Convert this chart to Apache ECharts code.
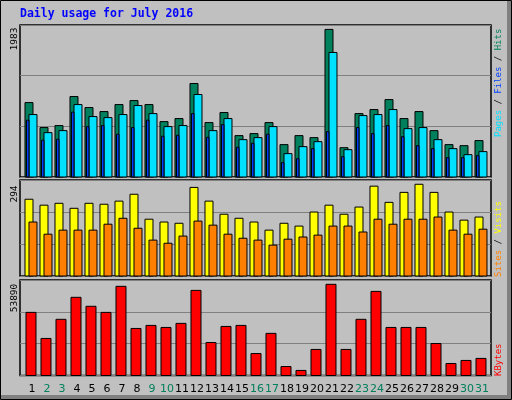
<!DOCTYPE html>
<html><head><meta charset="utf-8">
<script src="https://cdn.jsdelivr.net/npm/echarts@6/dist/echarts.min.js"></script>
<style>html,body{margin:0;padding:0;background:#c0c0c0}#c{width:512px;height:400px}</style>
</head><body><div id="c"></div>
<script>
const days = [1,2,3,4,5,6,7,8,9,10,11,12,13,14,15,16,17,18,19,20,21,22,23,24,25,26,27,28,29,30,31];
const weekend = [2,3,9,10,16,17,23,24,30,31];
const hits  = [1000,664,691,1081,933,879,973,1027,973,744,785,1256,731,866,556,583,731,435,556,529,1983,394,852,906,1040,785,879,623,435,421,489];
const files = [839,596,623,973,812,798,839,960,852,677,691,1108,623,785,502,529,677,314,408,475,1673,367,825,839,906,650,664,502,381,300,341];
const pages = [763,494,507,871,677,691,575,664,763,548,561,852,534,704,400,454,575,193,246,381,610,273,664,583,691,542,421,381,260,260,287];
const sites = [246,227,233,217,233,230,240,262,182,173,169,284,240,198,185,173,147,169,160,205,227,198,221,288,236,268,294,268,205,179,189];
const visits= [173,134,147,147,147,166,185,153,115,105,128,176,163,134,121,115,99,118,125,131,160,160,141,182,166,182,182,189,147,134,150];
const kbytes= [37300,21900,33200,46200,40900,37300,52700,27800,29600,28400,30800,50300,19500,29000,29600,13000,24900,5300,3000,15400,53890,15400,33200,49700,28400,28400,28400,18900,7100,8900,10100];
const maxLabels = ['1983','294','53890'];

const chart = echarts.init(document.getElementById('c'));
const grids = [
  {left:20, width:471, top:25, height:152},
  {left:20, width:471, top:180, height:96},
  {left:20, width:471, top:280, height:95.5}
];
const maxes = [2042, 307.7, 56437];
function barSeries(idx, vals, x0, x1, color){
  return {type:'custom', xAxisIndex:idx, yAxisIndex:idx, data: days.map((d,i)=>[d, vals[i]]),
    encode:{x:0,y:1}, silent:true,
    renderItem:(p, api)=>{
      const top = api.coord([api.value(0), api.value(1)]);
      const base = api.coord([api.value(0), 0]);
      return {type:'rect', shape:{x:top[0]+x0, y:top[1], width:x1-x0, height:base[1]-top[1]},
        style:{fill:color, stroke:'#000', lineWidth:1}};
    }};
}
const series = [
  barSeries(0, hits, -6, 2, '#00805c'),
  barSeries(0, files, -2, 6, '#00e0ff'),
  barSeries(0, pages, -4.5, -2, '#0040ff'),
  barSeries(1, sites, -6, 2, '#ffff00'),
  barSeries(1, visits, -2, 6, '#ff8000'),
  barSeries(2, kbytes, -5, 5, '#ff0000'),
  {type:'custom', xAxisIndex:2, yAxisIndex:2, data: days.map(d=>[d,0]), encode:{x:0,y:1}, silent:true,
   renderItem:(p, api)=>{
     const d = api.value(0); const c = api.coord([d,0]);
     return {type:'text', style:{x:c[0]+1, y:c[1]+14, text:String(d), align:'center', verticalAlign:'middle',
       fill: weekend.includes(d) ? '#00805c' : '#000', font:'11px "DejaVu Sans"'}};
   }}
];
const mono = '"DejaVu Sans Mono", monospace';
chart.setOption({
  animation:false,
  backgroundColor:'#c0c0c0',
  grid: grids.map(g=>Object.assign({show:true, backgroundColor:'#c0c0c0', borderColor:'#000', borderWidth:1.5}, g)),
  xAxis: grids.map((g,i)=>({type:'value', gridIndex:i, min:0.2667, max:31.667, show:false})),
  yAxis: maxes.map((m,i)=>({type:'value', gridIndex:i, min:0, max:m, interval:m/3,
    axisLabel:{show:false}, axisTick:{show:false}, axisLine:{show:false},
    splitLine:{show:true, lineStyle:{color:'#808080', width:1}}})),
  series: series,
  graphic: [
    {type:'rect', shape:{x:0.5,y:0.5,width:511,height:399}, style:{fill:'none', stroke:'#000', lineWidth:1}, z:-1},
    {type:'rect', shape:{x:1,y:395,width:510,height:4}, style:{fill:'#808080'}},
    {type:'rect', shape:{x:507,y:1,width:4,height:398}, style:{fill:'#808080'}},
    {type:'text', left:20, top:8, style:{text:'Daily usage for July 2016', fill:'#0000ff', font:'bold 11.5px '+mono}},
    {type:'text', x:15, y:39, rotation:Math.PI/2, style:{text:maxLabels[0], fill:'#000', font:'9.5px '+mono, align:'center', verticalAlign:'middle'}},
    {type:'text', x:15, y:194, rotation:Math.PI/2, style:{text:maxLabels[1], fill:'#000', font:'9.5px '+mono, align:'center', verticalAlign:'middle'}},
    {type:'text', x:15, y:298, rotation:Math.PI/2, style:{text:maxLabels[2], fill:'#000', font:'9.5px '+mono, align:'center', verticalAlign:'middle'}},
    {type:'text', x:499, y:137, rotation:Math.PI/2, style:{rich:{p:{fill:'#00e0ff'},f:{fill:'#0040ff'},h:{fill:'#00805c'},s:{fill:'#000'}},
      text:'{p|Pages}{s| / }{f|Files}{s| / }{h|Hits}', font:'9px '+mono, align:'left', verticalAlign:'middle'}},
    {type:'text', x:499, y:277, rotation:Math.PI/2, style:{rich:{a:{fill:'#ff8000'},b:{fill:'#ffff00'},s:{fill:'#000'}},
      text:'{a|Sites}{s| / }{b|Visits}', font:'9px '+mono, align:'left', verticalAlign:'middle'}},
    {type:'text', x:499, y:376, rotation:Math.PI/2, style:{text:'KBytes', fill:'#ff0000', font:'9px '+mono, align:'left', verticalAlign:'middle'}}
  ]
});
</script></body></html>
